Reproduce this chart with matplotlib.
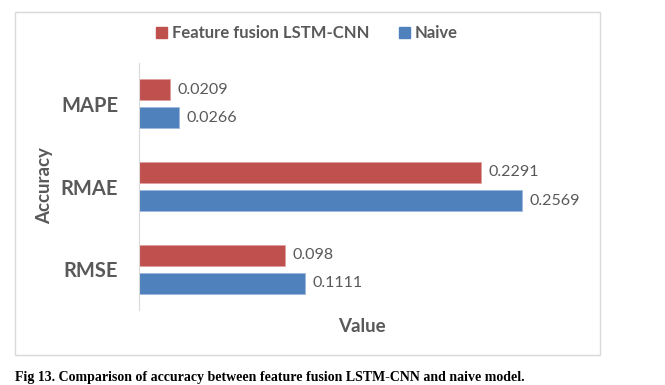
import numpy as np
import matplotlib
matplotlib.use("Agg")
import matplotlib.pyplot as plt
from matplotlib.patches import Rectangle, Patch

categories = ["MAPE", "RMAE", "RMSE"]
fusion_vals = [0.0209, 0.2291, 0.098]
naive_vals = [0.0266, 0.2569, 0.1111]
fusion_labels = ["0.0209", "0.2291", "0.098"]
naive_labels = ["0.0266", "0.2569", "0.1111"]
series_names = ["Feature fusion LSTM-CNN", "Naive"]

RED = "#C0504D"
BLUE = "#4F81BD"
GRAY = "#595959"

plt.rcParams["font.family"] = ["Lato", "DejaVu Sans"]

fig = plt.figure(figsize=(6.65, 3.85), dpi=100)
ax = fig.add_axes([139 / 665, 1 - 310 / 385, 0.66, (310 - 63) / 385])

y = np.arange(len(categories))
h = 0.25
off = 0.17
ax.barh(y - off, fusion_vals, height=h, color=RED, edgecolor="#E0A0A0", linewidth=0.6)
ax.barh(y + off, naive_vals, height=h, color=BLUE, edgecolor="#9DB9DD", linewidth=0.6)

for yi, v, lab in zip(y, fusion_vals, fusion_labels):
    ax.text(v + 0.005, yi - off, lab, va="center", ha="left", fontsize=11.5, color=GRAY)
for yi, v, lab in zip(y, naive_vals, naive_labels):
    ax.text(v + 0.005, yi + off, lab, va="center", ha="left", fontsize=11.5, color=GRAY)

ax.set_xlim(0, 0.66 * 665 / 1491)
ax.set_ylim(2.49, -0.49)
ax.set_yticks(y)
ax.set_yticklabels(categories, fontsize=14.5, fontweight="bold", color=GRAY)
ax.tick_params(axis="y", length=0, pad=15)
ax.set_xticks([])
for s in ["top", "right", "bottom"]:
    ax.spines[s].set_visible(False)
ax.spines["left"].set_color("#D9D9D9")

fig.text(362 / 665, 1 - 326 / 385, "Value", ha="center", va="center",
         fontsize=13.5, fontweight="bold", color=GRAY)
fig.text(45 / 665, 1 - 186 / 385, "Accuracy", ha="center", va="center",
         rotation=90, fontsize=13.5, fontweight="bold", color=GRAY)

handles = [Patch(color=RED), Patch(color=BLUE)]
fig.legend(handles, series_names, loc="center", bbox_to_anchor=(307 / 665, 1 - 33 / 385),
           ncol=2, frameon=False, handlelength=0.65, handleheight=0.65, handletextpad=0.3,
           columnspacing=1.8, prop={"family": "Lato", "weight": "bold", "size": 12},
           labelcolor=GRAY)

fig.patches.append(Rectangle((15 / 665, 1 - 355 / 385), 585 / 665, 343 / 385,
                             transform=fig.transFigure, fill=False,
                             edgecolor="#D9D9D9", linewidth=1))

fig.text(15 / 665, 1 - 378 / 385,
         "Fig 13. Comparison of accuracy between feature fusion LSTM-CNN and naive model.",
         ha="left", va="center", fontsize=10, fontweight="bold",
         family="Liberation Serif", color="black")

fig.savefig("out.png", dpi=100)
